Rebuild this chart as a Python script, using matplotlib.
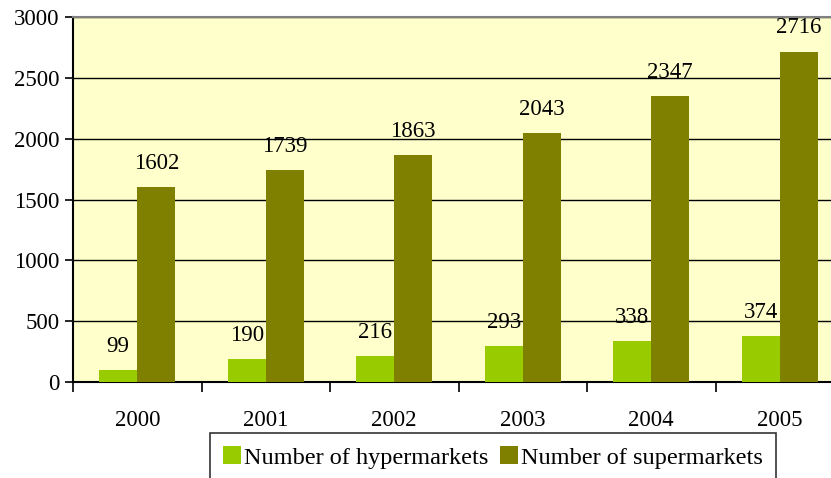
import matplotlib.pyplot as plt
import numpy as np

years = ["2000", "2001", "2002", "2003", "2004", "2005"]
hypermarkets = [99, 190, 216, 293, 338, 374]
supermarkets = [1602, 1739, 1863, 2043, 2347, 2716]

plt.rcParams["font.family"] = ["Liberation Serif", "DejaVu Serif"]

W, H = 831, 478
fig = plt.figure(figsize=(W / 100, H / 100), dpi=100)
ax = fig.add_axes([73 / W, 96 / H, 771 / W, 365 / H])
ax.set_facecolor("#FFFFCC")

x = np.arange(len(years))
bw = 0.296
b1 = ax.bar(x - bw / 2, hypermarkets, bw, color="#99CC00",
            label="Number of hypermarkets", zorder=3)
b2 = ax.bar(x + bw / 2, supermarkets, bw, color="#808000",
            label="Number of supermarkets", zorder=3)

# value labels above the bars
for bars, vals in ((b1, hypermarkets), (b2, supermarkets)):
    for r, v in zip(bars, vals):
        ax.annotate(str(v), (r.get_x() + r.get_width() / 2, v),
                    xytext=(0, 17), textcoords="offset points",
                    ha="center", va="center", fontsize=16.5, zorder=4)

ax.set_xlim(-0.5, len(years) - 0.5)
ax.set_ylim(0, 3000)
ax.set_yticks(range(0, 3001, 500))
ax.tick_params(axis="y", labelsize=16.5, direction="out", length=6, width=1.2)
ax.yaxis.grid(True, color="black", linewidth=1, zorder=1)

ax.set_xticks(x)
ax.set_xticklabels(years)
ax.tick_params(axis="x", which="major", length=0, labelsize=16.5, pad=20)
ax.set_xticks(np.arange(-0.5, len(years)), minor=True)
ax.tick_params(axis="x", which="minor", length=7, width=1.2, direction="out")

ax.spines["left"].set_linewidth(1.5)
ax.spines["bottom"].set_linewidth(1.5)
ax.spines["top"].set_color("gray")
ax.spines["top"].set_linewidth(1.5)
ax.spines["right"].set_visible(False)

leg = fig.legend(handles=[b1, b2], loc="upper left",
                 bbox_to_anchor=(210 / W, 45 / H), ncol=2, fontsize=17.5,
                 frameon=True, fancybox=False, borderaxespad=0,
                 handlelength=0.72, handleheight=0.72, handletextpad=0.12,
                 columnspacing=0.5, borderpad=0.55)
leg.get_frame().set_edgecolor("black")
leg.get_frame().set_linewidth(1.2)

fig.savefig("out.png", dpi=100)
